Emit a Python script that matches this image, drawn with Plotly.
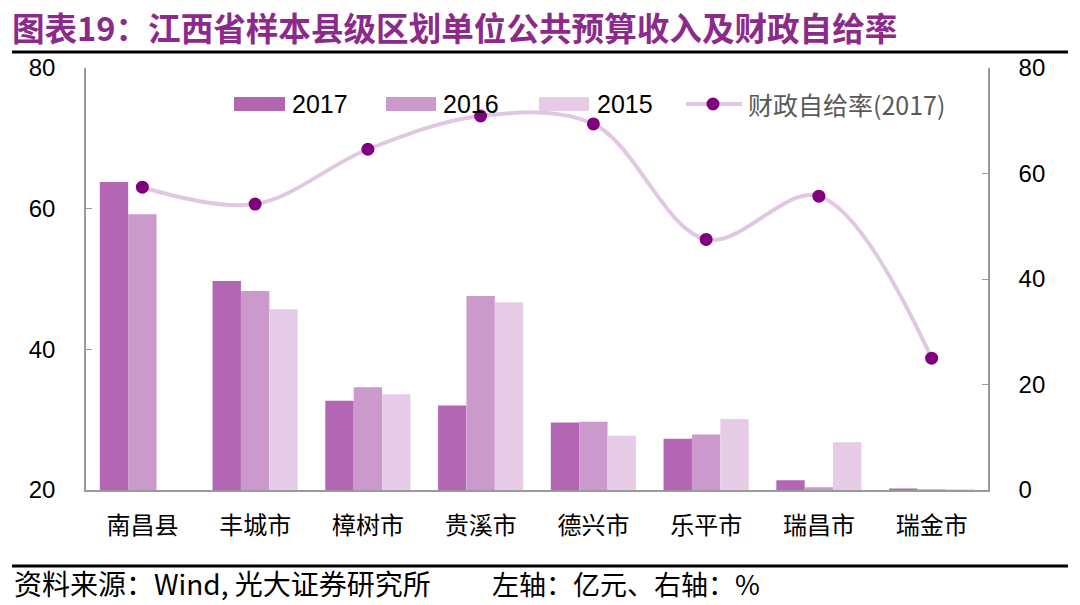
import plotly.graph_objects as go
from plotly.subplots import make_subplots

categories = ["南昌县", "丰城市", "樟树市", "贵溪市", "德兴市", "乐平市", "瑞昌市", "瑞金市"]
rev_2017 = [63.8, 49.7, 32.7, 32.0, 29.6, 27.3, 21.4, 20.2]
rev_2016 = [59.2, 48.3, 34.6, 47.6, 29.7, 27.9, 20.4, 20.1]
rev_2015 = [0, 45.7, 33.6, 46.7, 27.7, 30.1, 26.8, 20.1]
ratio_2017 = [57.4, 54.2, 64.6, 70.9, 69.4, 47.5, 55.7, 25.0]

left_ticks = [20, 40, 60, 80]
right_ticks = [0, 20, 40, 60, 80]

series_names = ["2017", "2016", "2015"]
line_name = "财政自给率(2017)"

W, H = 1080, 605
L, R, T, B = 86, 988, 68, 490

def px_x(px):
    return (px - L) / (R - L)

def px_y(py):
    return (B - py) / (B - T)

FONT = "Liberation Sans, Arial, Noto Sans CJK SC, sans-serif"
CJK = "Noto Sans CJK SC, Liberation Sans, sans-serif"

BAR_COLORS = ["#B366B3", "#CC99CC", "#E6CCE6"]
LINE_COLOR = "#E0C8E2"
MARKER_COLOR = "#800080"

fig = make_subplots(specs=[[{"secondary_y": True}]])

for name, vals, col in zip(series_names, [rev_2017, rev_2016, rev_2015], BAR_COLORS):
    fig.add_trace(go.Bar(x=categories, y=vals, name=name, marker=dict(color=col, line=dict(width=0))),
                  secondary_y=False)
fig.add_trace(go.Scatter(x=categories, y=ratio_2017, name=line_name, mode="lines+markers",
                         line=dict(color=LINE_COLOR, width=4, shape="spline", smoothing=1.0),
                         marker=dict(color=MARKER_COLOR, size=13)), secondary_y=True)

fig.update_layout(
    width=W, height=H,
    margin=dict(l=L, r=W - R, t=T, b=H - B, autoexpand=False),
    paper_bgcolor="white", plot_bgcolor="white",
    barmode="group", bargap=0.245, bargroupgap=0,
    font=dict(family=FONT, size=22, color="black"),
    title=dict(text="<b>图表19：江西省样本县级区划单位公共预算收入及财政自给率</b>",
               x=0.011, xanchor="left", y=1 - 30 / H, yanchor="middle", xref="container", yref="container",
               font=dict(family=CJK, size=32.6, color="#8C2A8C")),
    showlegend=False,
)

fig.update_xaxes(domain=[0, 1], showline=True, linecolor="#9A9A9A", linewidth=1.5, ticks="", showgrid=False, automargin=False,
                 tickfont=dict(family=CJK, size=24, color="black"), ticklabelstandoff=13)
fig.update_yaxes(range=[20, 80], tickvals=left_ticks, showline=True, linecolor="#9A9A9A", linewidth=1.5,
                 ticks="inside", ticklen=6, tickcolor="#9A9A9A", showgrid=False, zeroline=False, automargin=False,
                 tickfont=dict(family=FONT, size=24, color="black"), ticklabelstandoff=24, secondary_y=False)
fig.update_yaxes(range=[0, 80], tickvals=right_ticks, showline=True, linecolor="#9A9A9A", linewidth=1.5,
                 ticks="inside", ticklen=6, tickcolor="#9A9A9A", showgrid=False, zeroline=False, automargin=False,
                 tickfont=dict(family=FONT, size=24, color="black"), ticklabelstandoff=24, secondary_y=True)

# custom legend (wide swatches like the original)
legend_y = 104
swatches = [(234, 285, 290), (386, 436, 441), (539, 589, 595)]
for (sx0, sx1, tx), name, col in zip(swatches, series_names, BAR_COLORS):
    fig.add_shape(type="rect", xref="paper", yref="paper", x0=px_x(sx0), x1=px_x(sx1),
                  y0=px_y(legend_y + 7), y1=px_y(legend_y - 7), fillcolor=col, line=dict(width=0))
    fig.add_annotation(text=name, xref="paper", yref="paper", x=px_x(tx), y=px_y(legend_y),
                       xanchor="left", yanchor="middle", showarrow=False,
                       font=dict(family=FONT, size=25, color="black"))
fig.add_shape(type="line", xref="paper", yref="paper", x0=px_x(686), x1=px_x(742), y0=px_y(legend_y), y1=px_y(legend_y),
              line=dict(color=LINE_COLOR, width=4))
fig.add_shape(type="circle", xref="paper", yref="paper", x0=px_x(713 - 6.5), x1=px_x(713 + 6.5),
              y0=px_y(legend_y + 6.5), y1=px_y(legend_y - 6.5), fillcolor=MARKER_COLOR, line=dict(width=0))
fig.add_annotation(text=line_name, xref="paper", yref="paper", x=px_x(746), y=px_y(legend_y),
                   xanchor="left", yanchor="middle", showarrow=False,
                   font=dict(family=CJK, size=25, color="#595959"))

# header and footer rules
fig.add_shape(type="line", xref="paper", yref="paper", x0=px_x(12), x1=px_x(1068), y0=px_y(52), y1=px_y(52),
              line=dict(color="black", width=3))
fig.add_shape(type="line", xref="paper", yref="paper", x0=px_x(12), x1=px_x(1068), y0=px_y(566), y1=px_y(566),
              line=dict(color="black", width=3))

fig.add_annotation(text="资料来源：Wind, 光大证券研究所", xref="paper", yref="paper", x=px_x(12), y=px_y(583),
                   xanchor="left", yanchor="middle", showarrow=False, font=dict(family=CJK, size=28, color="black"))
fig.add_annotation(text="左轴：亿元、右轴：%", xref="paper", yref="paper", x=px_x(490), y=px_y(583),
                   xanchor="left", yanchor="middle", showarrow=False, font=dict(family=CJK, size=27, color="black"))

fig.write_html("out.html", config={"displayModeBar": False},
               post_script="document.body.style.margin='0px';")
